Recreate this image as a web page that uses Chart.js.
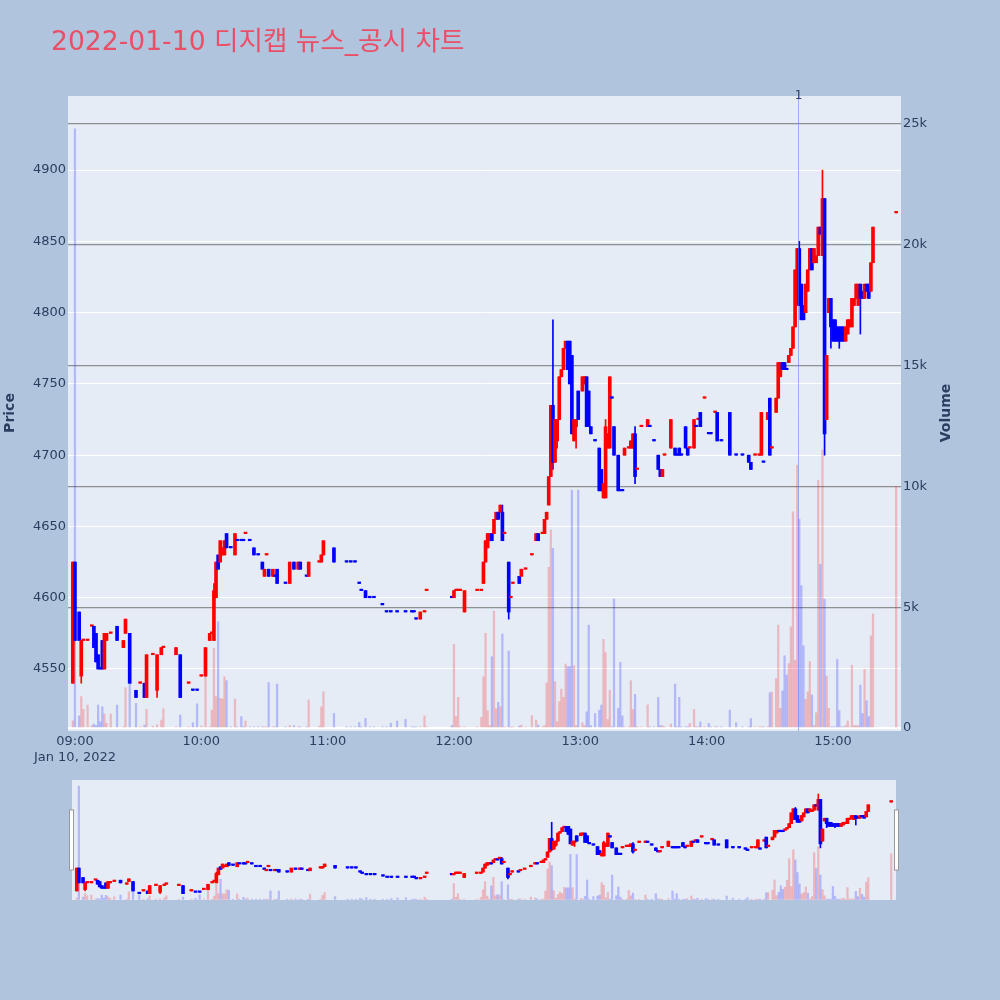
<!DOCTYPE html>
<html>
<head>
<meta charset="utf-8">
<script src="https://cdn.jsdelivr.net/npm/chart.js@4.4.0/dist/chart.umd.min.js"></script>
<style>
html,body{margin:0;padding:0;background:#b0c4de;}
#wrap{position:relative;width:1000px;height:1000px;}
#main{position:absolute;left:0;top:0;}
#slider{position:absolute;left:60px;top:775px;}
</style>
</head>
<body>
<div id="wrap">
<canvas id="main" width="1000" height="1000"></canvas>
<canvas id="slider" width="850" height="130"></canvas>
</div>
<script>
var title = '2022-01-10 디지캡 뉴스_공시 차트';
var dateLabel = 'Jan 10, 2022';

// minutes after 09:00, one entry per traded minute
var minutes = [
  -1, 0, 2, 3, 4, 6, 8, 9, 10, 11,
  12, 13, 14, 15, 17, 20, 23, 24, 26, 29,
  31, 33, 34, 37, 39, 41, 42, 48, 50, 54,
  56, 58, 60, 62, 64, 65, 66, 67, 68, 69,
  70, 71, 72, 74, 76, 77, 79, 80, 81, 83,
  85, 87, 89, 90, 91, 92, 94, 95, 96, 100,
  102, 104, 106, 107, 110, 111, 116, 117, 118, 123,
  129, 131, 133, 135, 136, 138, 140, 142, 146, 148,
  150, 153, 157, 160, 161, 162, 164, 166, 167, 179,
  180, 181, 182, 183, 185, 191, 193, 194, 195, 196,
  197, 198, 199, 200, 201, 202, 203, 204, 206, 207,
  208, 211, 212, 214, 217, 219, 220, 222, 223, 224,
  225, 226, 227, 228, 229, 230, 231, 232, 233, 234,
  235, 236, 237, 238, 239, 241, 242, 243, 244, 245,
  247, 249, 250, 251, 252, 253, 254, 255, 256, 258,
  259, 260, 261, 263, 264, 265, 266, 267, 269, 272,
  273, 275, 277, 278, 279, 280, 283, 285, 286, 287,
  288, 290, 291, 292, 294, 295, 296, 297, 299, 301,
  302, 304, 305, 307, 311, 314, 317, 320, 321, 323,
  325, 326, 327, 329, 330, 331, 333, 334, 335, 336,
  337, 338, 339, 340, 341, 342, 343, 344, 345, 346,
  347, 348, 349, 350, 351, 352, 353, 354, 355, 356,
  357, 358, 359, 360, 361, 362, 363, 364, 365, 366,
  367, 368, 369, 370, 371, 372, 373, 374, 375, 376,
  377, 378, 379, 390
];
var opens = [
  4540, 4625, 4590, 4545, 4570, 4570, 4580, 4580, 4575, 4560,
  4550, 4570, 4550, 4570, 4575, 4580, 4565, 4575, 4575, 4535,
  4540, 4540, 4530, 4560, 4535, 4560, 4565, 4560, 4560, 4540,
  4535, 4535, 4545, 4545, 4570, 4575, 4570, 4600, 4630, 4625,
  4630, 4630, 4645, 4635, 4630, 4640, 4640, 4640, 4645, 4640,
  4635, 4630, 4625, 4615, 4630, 4620, 4615, 4615, 4620, 4610,
  4610, 4625, 4620, 4625, 4615, 4615, 4625, 4625, 4630, 4635,
  4625, 4625, 4625, 4610, 4605, 4605, 4600, 4600, 4595, 4590,
  4590, 4590, 4590, 4590, 4590, 4585, 4585, 4590, 4605, 4600,
  4600, 4605, 4605, 4605, 4590, 4605, 4605, 4610, 4625, 4635,
  4640, 4645, 4645, 4655, 4660, 4660, 4660, 4645, 4625, 4600,
  4610, 4615, 4615, 4620, 4630, 4640, 4645, 4645, 4645, 4655,
  4665, 4685, 4735, 4695, 4710, 4725, 4755, 4760, 4775, 4780,
  4780, 4770, 4710, 4720, 4745, 4745, 4750, 4755, 4745, 4720,
  4710, 4705, 4690, 4670, 4670, 4705, 4705, 4740, 4720, 4700,
  4675, 4675, 4700, 4705, 4705, 4705, 4715, 4690, 4720, 4720,
  4720, 4710, 4700, 4690, 4685, 4700, 4705, 4705, 4700, 4705,
  4700, 4720, 4705, 4705, 4705, 4720, 4725, 4730, 4740, 4715,
  4715, 4730, 4730, 4710, 4730, 4700, 4700, 4700, 4695, 4700,
  4700, 4700, 4695, 4725, 4740, 4705, 4730, 4740, 4755, 4765,
  4765, 4760, 4765, 4770, 4775, 4790, 4810, 4845, 4820, 4805,
  4800, 4815, 4830, 4845, 4835, 4835, 4840, 4860, 4840, 4880,
  4725, 4800, 4810, 4795, 4795, 4790, 4790, 4790, 4790, 4780,
  4785, 4790, 4790, 4805, 4810, 4805, 4820, 4815, 4810, 4820,
  4820, 4815, 4835, 4870
];
var highs = [
  4625, 4625, 4590, 4570, 4570, 4570, 4580, 4580, 4575, 4560,
  4550, 4570, 4575, 4575, 4575, 4580, 4570, 4585, 4575, 4535,
  4540, 4540, 4560, 4560, 4560, 4565, 4565, 4565, 4560, 4540,
  4535, 4535, 4545, 4565, 4575, 4575, 4610, 4625, 4630, 4640,
  4635, 4640, 4645, 4635, 4645, 4640, 4640, 4640, 4645, 4640,
  4635, 4630, 4625, 4620, 4630, 4620, 4620, 4615, 4620, 4610,
  4625, 4625, 4625, 4625, 4615, 4625, 4625, 4630, 4640, 4635,
  4625, 4625, 4625, 4610, 4605, 4605, 4600, 4600, 4595, 4590,
  4590, 4590, 4590, 4590, 4590, 4585, 4590, 4590, 4605, 4600,
  4605, 4605, 4605, 4605, 4605, 4605, 4605, 4625, 4640, 4645,
  4645, 4645, 4655, 4660, 4660, 4665, 4665, 4645, 4625, 4600,
  4610, 4615, 4620, 4620, 4630, 4645, 4645, 4645, 4655, 4660,
  4685, 4735, 4795, 4725, 4725, 4755, 4760, 4775, 4780, 4780,
  4780, 4770, 4725, 4725, 4745, 4755, 4755, 4755, 4745, 4720,
  4710, 4705, 4690, 4680, 4725, 4715, 4755, 4740, 4720, 4700,
  4675, 4675, 4705, 4705, 4710, 4715, 4720, 4690, 4720, 4725,
  4720, 4710, 4700, 4690, 4690, 4700, 4725, 4705, 4700, 4705,
  4700, 4720, 4705, 4705, 4725, 4720, 4725, 4730, 4740, 4715,
  4715, 4730, 4730, 4710, 4730, 4700, 4700, 4700, 4695, 4700,
  4700, 4730, 4695, 4730, 4740, 4705, 4740, 4765, 4765, 4765,
  4765, 4760, 4770, 4775, 4790, 4830, 4845, 4850, 4820, 4805,
  4820, 4830, 4845, 4845, 4845, 4840, 4860, 4860, 4900, 4880,
  4770, 4810, 4810, 4795, 4795, 4790, 4790, 4790, 4790, 4790,
  4795, 4795, 4810, 4810, 4820, 4820, 4820, 4815, 4820, 4820,
  4820, 4835, 4860, 4870
];
var lows = [
  4540, 4570, 4570, 4540, 4570, 4570, 4580, 4565, 4555, 4550,
  4550, 4550, 4550, 4570, 4575, 4570, 4565, 4575, 4540, 4530,
  4540, 4530, 4530, 4560, 4530, 4560, 4565, 4560, 4530, 4540,
  4535, 4535, 4545, 4545, 4570, 4575, 4570, 4600, 4620, 4625,
  4630, 4630, 4635, 4635, 4630, 4640, 4640, 4640, 4645, 4640,
  4630, 4630, 4620, 4615, 4630, 4615, 4615, 4615, 4610, 4610,
  4610, 4620, 4620, 4620, 4615, 4615, 4625, 4625, 4630, 4625,
  4625, 4625, 4625, 4610, 4605, 4600, 4600, 4600, 4595, 4590,
  4590, 4590, 4590, 4590, 4590, 4585, 4585, 4590, 4605, 4600,
  4600, 4605, 4605, 4605, 4590, 4605, 4605, 4610, 4625, 4635,
  4640, 4640, 4645, 4655, 4655, 4660, 4640, 4645, 4585, 4600,
  4610, 4610, 4615, 4620, 4630, 4640, 4640, 4645, 4645, 4655,
  4665, 4685, 4690, 4695, 4705, 4725, 4755, 4760, 4775, 4760,
  4750, 4715, 4710, 4705, 4725, 4745, 4750, 4720, 4720, 4715,
  4710, 4675, 4675, 4670, 4670, 4705, 4705, 4740, 4700, 4675,
  4675, 4675, 4700, 4705, 4705, 4705, 4680, 4690, 4720, 4720,
  4720, 4710, 4690, 4685, 4685, 4700, 4705, 4700, 4700, 4700,
  4700, 4705, 4700, 4705, 4705, 4720, 4725, 4720, 4740, 4715,
  4715, 4730, 4710, 4710, 4700, 4700, 4700, 4695, 4690, 4700,
  4700, 4700, 4695, 4725, 4700, 4705, 4730, 4740, 4755, 4760,
  4760, 4760, 4765, 4770, 4775, 4790, 4805, 4805, 4795, 4795,
  4800, 4815, 4830, 4830, 4835, 4835, 4840, 4855, 4840, 4700,
  4725, 4800, 4775, 4780, 4780, 4780, 4775, 4780, 4780, 4780,
  4785, 4790, 4790, 4805, 4810, 4805, 4785, 4810, 4810, 4815,
  4810, 4815, 4835, 4870
];
var closes = [
  4625, 4570, 4570, 4570, 4570, 4570, 4580, 4565, 4555, 4550,
  4550, 4550, 4575, 4575, 4575, 4570, 4570, 4585, 4540, 4530,
  4540, 4530, 4560, 4560, 4560, 4565, 4565, 4565, 4530, 4540,
  4535, 4535, 4545, 4565, 4575, 4575, 4605, 4625, 4620, 4640,
  4635, 4640, 4635, 4635, 4645, 4640, 4640, 4640, 4645, 4640,
  4630, 4630, 4620, 4620, 4630, 4615, 4620, 4615, 4610, 4610,
  4625, 4620, 4625, 4620, 4615, 4625, 4625, 4630, 4640, 4625,
  4625, 4625, 4625, 4610, 4605, 4600, 4600, 4600, 4595, 4590,
  4590, 4590, 4590, 4590, 4590, 4585, 4590, 4590, 4605, 4600,
  4605, 4605, 4605, 4605, 4605, 4605, 4605, 4625, 4640, 4645,
  4645, 4640, 4655, 4660, 4655, 4665, 4640, 4645, 4590, 4600,
  4610, 4610, 4620, 4620, 4630, 4645, 4640, 4645, 4655, 4660,
  4685, 4735, 4695, 4725, 4725, 4755, 4760, 4775, 4780, 4760,
  4750, 4715, 4725, 4725, 4725, 4755, 4755, 4720, 4720, 4715,
  4710, 4675, 4675, 4680, 4720, 4715, 4755, 4740, 4700, 4675,
  4675, 4675, 4705, 4705, 4710, 4715, 4685, 4690, 4720, 4725,
  4720, 4710, 4690, 4685, 4690, 4700, 4725, 4700, 4700, 4700,
  4700, 4705, 4700, 4705, 4725, 4720, 4725, 4720, 4740, 4715,
  4715, 4730, 4710, 4710, 4700, 4700, 4700, 4695, 4690, 4700,
  4700, 4730, 4695, 4730, 4700, 4705, 4740, 4765, 4765, 4760,
  4760, 4760, 4770, 4775, 4790, 4830, 4845, 4805, 4795, 4795,
  4820, 4830, 4845, 4830, 4845, 4840, 4860, 4855, 4880, 4715,
  4770, 4810, 4790, 4780, 4780, 4780, 4780, 4780, 4780, 4790,
  4795, 4795, 4810, 4810, 4820, 4820, 4810, 4810, 4820, 4815,
  4810, 4835, 4860, 4870
];
var volumes = [
  300, 24800, 500, 1300, 770, 950, 100, 160, 100, 950,
  260, 880, 580, 200, 580, 950, 50, 1670, 1820, 1020,
  50, 120, 770, 80, 130, 330, 800, 50, 540, 50,
  220, 1000, 80, 2120, 50, 740, 3300, 1300, 4400, 1230,
  1200, 2120, 1960, 50, 1200, 50, 470, 50, 290, 50,
  50, 50, 50, 50, 50, 1880, 50, 50, 1820, 50,
  100, 100, 50, 50, 50, 1160, 80, 880, 1500, 600,
  50, 50, 50, 230, 50, 400, 50, 50, 50, 50,
  200, 290, 360, 50, 50, 50, 50, 500, 50, 100,
  3460, 470, 1270, 50, 50, 50, 440, 2120, 3920, 720,
  100, 2950, 4840, 800, 1060, 880, 3890, 50, 3190, 30,
  50, 80, 120, 50, 510, 330, 120, 50, 100, 1870,
  6650, 8200, 7430, 1920, 260, 1090, 1610, 1270, 2650, 2540,
  2540, 9850, 2580, 100, 9850, 220, 100, 670, 4260, 100,
  600, 740, 950, 3670, 3120, 350, 1570, 50, 5340, 810,
  2720, 500, 50, 50, 1960, 770, 1390, 50, 50, 960,
  50, 50, 1270, 100, 100, 50, 165, 1820, 50, 1270,
  50, 50, 50, 190, 770, 50, 50, 250, 50, 190,
  50, 50, 50, 50, 740, 220, 50, 50, 390, 50,
  50, 50, 50, 50, 1460, 1490, 2050, 4260, 810, 1540,
  2990, 2190, 2670, 4190, 8950, 2810, 10880, 8640, 5890, 3400,
  1190, 1500, 2750, 1370, 100, 630, 10260, 6770, 11500, 5330,
  2150, 810, 50, 50, 50, 2840, 720, 50, 50, 100,
  290, 50, 2600, 100, 100, 100, 1780, 600, 2430, 1130,
  470, 3810, 4720, 10000
];

var hourTicks = [0, 60, 120, 180, 240, 300, 360];
var priceTicks = [4550, 4600, 4650, 4700, 4750, 4800, 4850, 4900];
var volumeTicks = [0, 5000, 10000, 15000, 20000, 25000];
var volumeTickLabels = ['0', '5k', '10k', '15k', '20k', '25k'];
var newsTimes = [343.5];   // 14:43
var newsLabels = ['1'];

var FONT = '"DejaVu Sans", "Noto Sans CJK KR", sans-serif';
var INK = '#2a3f5f';

// plotly style direction: equal open/close follows the previous close
var up = [];
for (var i = 0; i < minutes.length; i++) {
  var u;
  if (closes[i] > opens[i]) u = true;
  else if (closes[i] < opens[i]) u = false;
  else if (i > 0 && closes[i] != closes[i - 1]) u = closes[i] > closes[i - 1];
  else u = i > 0 ? up[i - 1] : true;
  up.push(u);
}

function candleSets(bodyW, wickW, volW) {
  return [
    {
      label: 'body', yAxisID: 'y', order: 1, grouped: false,
      data: minutes.map(function(m, i) { return {x: m, y: [opens[i], closes[i]]}; }),
      backgroundColor: up.map(function(u) { return u ? 'rgb(255,0,0)' : 'rgb(0,0,255)'; }),
      barThickness: bodyW, minBarLength: 1.5
    },
    {
      label: 'wick', yAxisID: 'y', order: 2, grouped: false,
      data: minutes.map(function(m, i) { return {x: m, y: [lows[i], highs[i]]}; }),
      backgroundColor: up.map(function(u) { return u ? 'rgb(255,0,0)' : 'rgb(0,0,255)'; }),
      barThickness: wickW, minBarLength: 1
    },
    {
      label: 'volume', yAxisID: 'y2', order: 3, grouped: false,
      data: minutes.map(function(m, i) { return {x: m, y: volumes[i]}; }),
      backgroundColor: up.map(function(u) { return u ? 'rgba(255,0,0,0.22)' : 'rgba(0,0,255,0.22)'; }),
      barThickness: volW
    }
  ];
}

function hhmm(v) {
  var h = 9 + Math.floor(v / 60), mm = v % 60;
  return (h < 10 ? '0' : '') + h + ':' + (mm < 10 ? '0' : '') + mm;
}

var plotBg = {
  id: 'plotBg',
  beforeDraw: function(chart) {
    var a = chart.chartArea, ctx = chart.ctx;
    ctx.save();
    ctx.fillStyle = '#e5ecf6';
    ctx.fillRect(a.left, a.top, a.right - a.left, a.bottom - a.top);
    ctx.restore();
  }
};

// title, axis titles and the news marker
var decor = {
  id: 'decor',
  afterDatasetsDraw: function(chart) {
    var ctx = chart.ctx, a = chart.chartArea, x = chart.scales.x;
    ctx.save();
    newsTimes.forEach(function(t, i) {
      var px = Math.round(x.getPixelForValue(t)) + 0.5;
      ctx.strokeStyle = 'rgba(99,120,250,0.55)';
      ctx.lineWidth = 1;
      ctx.beginPath();
      ctx.moveTo(px, a.top);
      ctx.lineTo(px, a.bottom);
      ctx.stroke();
      ctx.fillStyle = INK;
      ctx.font = '12px ' + FONT;
      ctx.textAlign = 'center';
      ctx.textBaseline = 'middle';
      ctx.fillText(newsLabels[i], px, a.top);
    });
    ctx.fillStyle = 'rgb(233,80,104)';
    ctx.font = '26.6px ' + FONT;
    ctx.textAlign = 'left';
    ctx.textBaseline = 'alphabetic';
    ctx.fillText(title, 51, 50);

    ctx.fillStyle = INK;
    ctx.font = 'bold 14px ' + FONT;
    ctx.textAlign = 'center';
    ctx.textBaseline = 'middle';
    ctx.translate(10, 413);
    ctx.rotate(-Math.PI / 2);
    ctx.fillText('Price', 0, 0);
    ctx.setTransform(1, 0, 0, 1, 0, 0);
    ctx.translate(946, 413);
    ctx.rotate(-Math.PI / 2);
    ctx.fillText('Volume', 0, 0);
    ctx.restore();
  }
};

Chart.defaults.font.family = FONT;
Chart.defaults.font.size = 13;
Chart.defaults.color = INK;

new Chart(document.getElementById('main'), {
  type: 'bar',
  data: {datasets: candleSets(3, 1, 1.6)},
  options: {
    responsive: false,
    animation: false,
    layout: {padding: {top: 96, left: 0, right: 0, bottom: 0}},
    plugins: {legend: {display: false}, tooltip: {enabled: false}},
    scales: {
      x: {
        type: 'linear', min: -3.3, max: 392.3, offset: false,
        grid: {display: false, drawTicks: false}, border: {display: false},
        afterBuildTicks: function(s) { s.ticks = hourTicks.map(function(v) { return {value: v}; }); },
        afterFit: function(s) { s.height = 269; },
        ticks: {
          autoSkip: false, maxRotation: 0, padding: 3,
          font: {size: 13, lineHeight: 1.2},
          callback: function(v) { return v === 0 ? [hhmm(v), dateLabel] : hhmm(v); }
        }
      },
      y: {
        position: 'left', min: 4506.5, max: 4952,
        grid: {color: '#ffffff', lineWidth: 1, drawTicks: false}, border: {display: false},
        afterBuildTicks: function(s) { s.ticks = priceTicks.map(function(v) { return {value: v}; }); },
        afterFit: function(s) { s.width = 68; },
        ticks: {padding: 2, callback: function(v) { return String(v); }}
      },
      y2: {
        position: 'right', min: -124, max: 26160,
        grid: {
          drawTicks: false,
          color: function(c) { return c.tick && c.tick.value === 0 ? '#ffffff' : 'rgba(120,120,120,0.8)'; },
          lineWidth: function(c) { return c.tick && c.tick.value === 0 ? 2 : 1.3; }
        },
        border: {display: false},
        afterBuildTicks: function(s) { s.ticks = volumeTicks.map(function(v) { return {value: v}; }); },
        afterFit: function(s) { s.width = 99; },
        ticks: {padding: 2, callback: function(v) { return volumeTickLabels[volumeTicks.indexOf(v)]; }}
      }
    }
  },
  plugins: [plotBg, decor]
});

// range slider handles
var handles = {
  id: 'handles',
  afterDraw: function(chart) {
    var ctx = chart.ctx, a = chart.chartArea;
    ctx.save();
    ctx.fillStyle = '#ffffff';
    ctx.strokeStyle = '#999999';
    ctx.lineWidth = 1;
    [a.left - 2.5, a.right - 1.5].forEach(function(hx) {
      ctx.fillRect(hx, 35, 4, 60);
      ctx.strokeRect(hx, 35, 4, 60);
    });
    ctx.restore();
  }
};

new Chart(document.getElementById('slider'), {
  type: 'bar',
  data: {datasets: candleSets(3, 1, 1.6)},
  options: {
    responsive: false,
    animation: false,
    layout: {padding: {top: 5, left: 12, right: 14, bottom: 5}},
    plugins: {legend: {display: false}, tooltip: {enabled: false}},
    scales: {
      x: {type: 'linear', min: -3.3, max: 392.3, offset: false, display: false},
      y: {min: 4506.5, max: 4952, display: false},
      y2: {position: 'right', min: -124, max: 26160, display: false}
    }
  },
  plugins: [plotBg, handles]
});
</script>
</body>
</html>
